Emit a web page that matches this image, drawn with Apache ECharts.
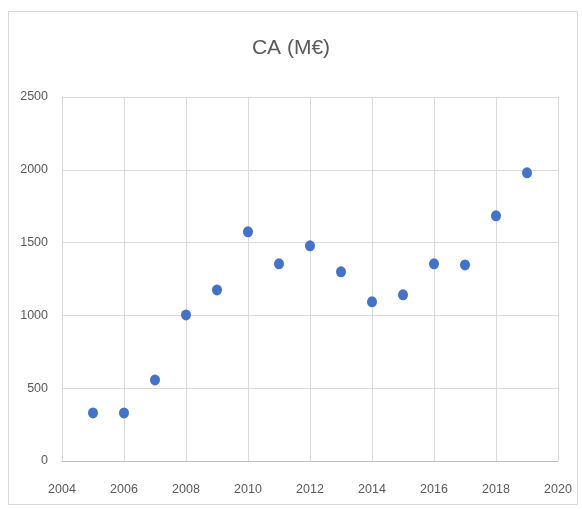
<!DOCTYPE html>
<html>
<head>
<meta charset="utf-8">
<script src="https://cdn.jsdelivr.net/npm/echarts@6/dist/echarts.min.js"></script>
<style>
  html, body { margin: 0; padding: 0; background: #fff; }
  #frame { position: absolute; left: 8px; top: 11px; width: 570px; height: 494px; border: 1px solid #d9d9d9; box-sizing: border-box; }
  #main { position: absolute; left: 0; top: 0; width: 582px; height: 509px; }
</style>
</head>
<body>
<div id="frame"></div>
<div id="main"></div>
<script>
var years = [2005, 2006, 2007, 2008, 2009, 2010, 2011, 2012, 2013, 2014, 2015, 2016, 2017, 2018, 2019];
var ca = [330, 330, 557, 1003, 1175, 1574, 1354, 1478, 1299, 1093, 1141, 1354, 1347, 1684, 1979];

var points = years.map(function (y, i) { return [y, ca[i]]; });

var chart = echarts.init(document.getElementById('main'));
var labelFont = "'Liberation Sans Narrow', 'Liberation Sans', sans-serif";
var option = {
    title: {
        text: 'CA (M€)',
        left: 'center',
        top: 33,
        textStyle: {
            color: '#595959',
            fontSize: 21,
            fontWeight: 'normal',
            fontFamily: labelFont
        }
    },
    grid: {
        left: 62,
        right: 24,
        top: 97,
        bottom: 48
    },
    xAxis: {
        type: 'value',
        min: 2004,
        max: 2020,
        interval: 2,
        axisLine: { show: true, lineStyle: { color: '#bfbfbf' } },
        axisTick: { show: false },
        axisLabel: {
            color: '#595959', fontSize: 12.5, fontFamily: labelFont, margin: 22,
            formatter: function (v) { return String(v); }
        },
        splitLine: { show: true, lineStyle: { color: '#d9d9d9' } }
    },
    yAxis: {
        type: 'value',
        min: 0,
        max: 2500,
        interval: 500,
        axisLine: { show: true, lineStyle: { color: '#d9d9d9' } },
        axisTick: { show: false },
        axisLabel: {
            color: '#595959', fontSize: 12.5, fontFamily: labelFont, margin: 14,
            formatter: function (v) { return String(v); }
        },
        splitLine: { show: true, lineStyle: { color: '#d9d9d9' } }
    },
    series: [
        {
            type: 'scatter',
            symbol: 'circle',
            symbolSize: [10, 11],
            itemStyle: { color: '#4472C4', opacity: 1 },
            data: points
        }
    ]
};
chart.setOption(option);
</script>
</body>
</html>
